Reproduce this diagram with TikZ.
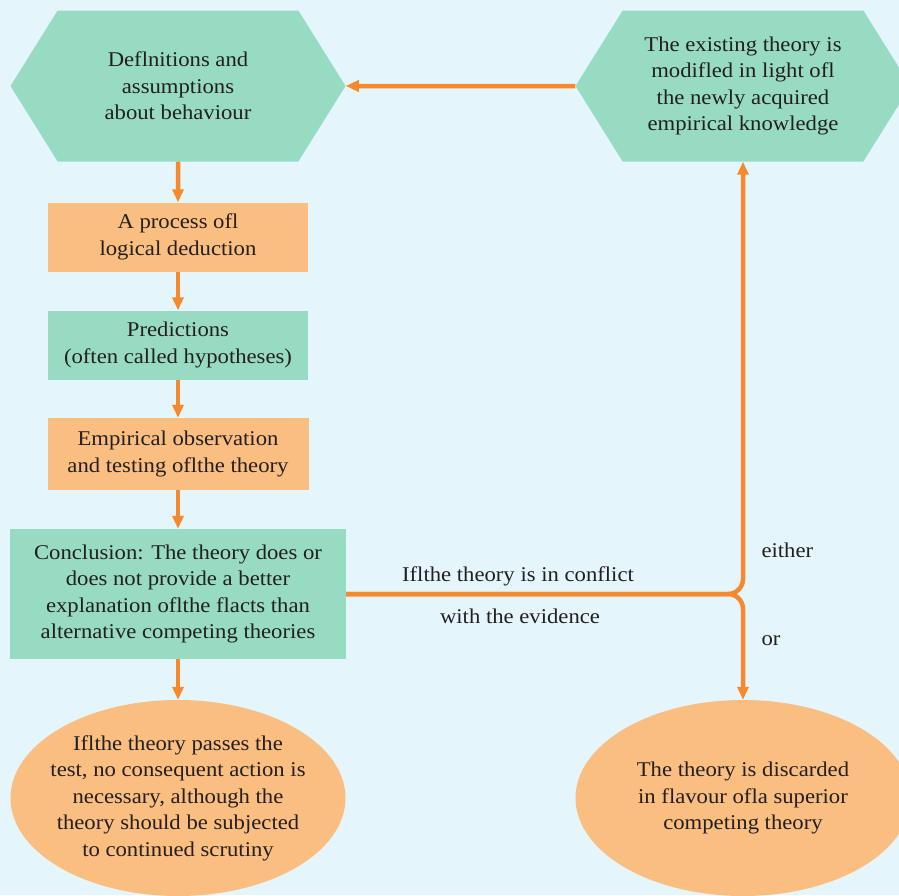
\documentclass[tikz,border=0pt]{standalone}
\usepackage{fontspec}
\setmainfont[FakeStretch=1.08]{Liberation Serif}
\usetikzlibrary{arrows.meta,shapes.geometric,shapes.symbols}

\definecolor{bgblue}{HTML}{E4F5FC}
\definecolor{boxgreen}{HTML}{97DBC2}
\definecolor{boxorange}{HTML}{F9BE80}
\definecolor{linkorange}{HTML}{F5892C}
\definecolor{textgray}{HTML}{231F20}

\begin{document}
\begin{tikzpicture}[x=1pt, y=-1pt,
    every node/.style={text=textgray, font=\fontsize{21}{26.5}\selectfont, align=center},
    hexbox/.style={shape=signal, signal to=west and east, signal pointer angle=116,
        fill=boxgreen, minimum width=335pt, minimum height=151pt, inner sep=0pt},
    greenbox/.style={rectangle, fill=boxgreen, inner sep=0pt},
    orangebox/.style={rectangle, fill=boxorange, inner sep=0pt},
    outcome/.style={ellipse, fill=boxorange, inner sep=0pt,
        minimum width=335pt, minimum height=196pt},
    flow/.style={draw=linkorange, line width=4.5pt,
        -{Triangle[length=13pt, width=11pt]}},
    branch/.style={flow, rounded corners=15pt}
]

    % Background
    \clip (0,0) rectangle (899,895);
    \fill[bgblue] (0,0) rectangle (899,895);

    % Left column
    \node[hexbox] (defs) at (178,86) {Deflnitions and\\assumptions\\about behaviour};
    \node[orangebox, minimum width=260pt, minimum height=69pt] (deduct) at (178,237)
        {A process ofl\\logical deduction};
    \node[greenbox, minimum width=260pt, minimum height=69pt] (predict) at (178,345)
        {Predictions\\(often called hypotheses)};
    \node[orangebox, minimum width=261pt, minimum height=72pt] (empir) at (178,454)
        {Empirical observation\\and testing oflthe theory};
    \node[greenbox, minimum width=336pt, minimum height=130pt] (concl) at (178,594)
        {Conclusion: The theory does or\\does not provide a better\\explanation oflthe flacts than\\alternative competing theories};
    \node[outcome] (passes) at (178,798) {};
    \node (passes-text) at (passes) 
        {Iflthe theory passes the\\test, no consequent action is\\necessary, although the\\theory should be subjected\\to continued scrutiny};

    % Right column
    \node[hexbox] (modif) at (743,86)
        {The existing theory is\\modifled in light ofl\\the newly acquired\\empirical knowledge};
    \node[outcome] (discard) at (743,798) {};
    \node (discard-text) at (discard)
        {The theory is discarded\\in flavour ofla superior\\competing theory};

    % Labels
    \node (conflict) at (518,576) {Iflthe theory is in conflict};
    \node (evidence) at (520,616) {with the evidence};
    \node[anchor=west] (either) at (758,550) {either};
    \node[anchor=west] (or) at (758,641) {or};

    % Arrows
    \draw[flow] (defs) -- (deduct);
    \draw[flow] (deduct) -- (predict);
    \draw[flow] (predict) -- (empir);
    \draw[flow] (empir) -- (concl);
    \draw[flow] (concl) -- (passes);
    \draw[flow] (modif) -- (defs);
    \draw[branch] (concl.east) -| (modif.south);
    \draw[branch] (concl.east) -| (discard.north);

\end{tikzpicture}
\end{document}
